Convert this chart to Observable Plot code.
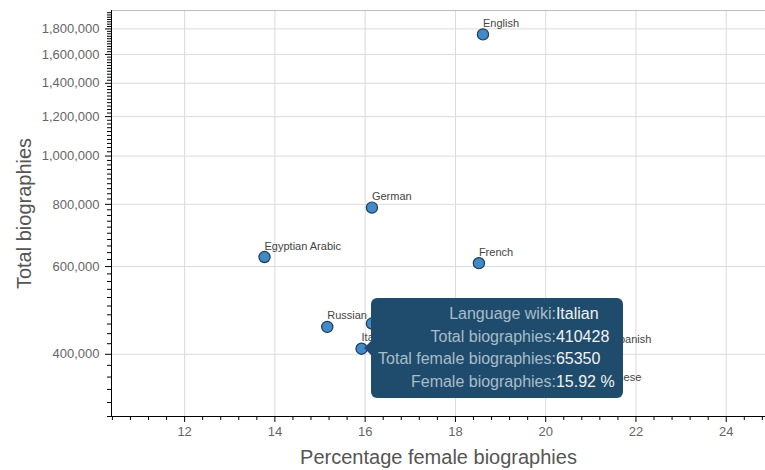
<!DOCTYPE html>
<html>
<head>
<meta charset="utf-8">
<script src="https://cdn.jsdelivr.net/npm/d3@7"></script>
<script src="https://cdn.jsdelivr.net/npm/@observablehq/plot@0.6"></script>
<style>
  html, body { margin: 0; padding: 0; background: #fff; }
  #wrap { position: relative; width: 765px; height: 470px; font-family: "Liberation Sans", Arial, Helvetica, sans-serif; }
  #tip {
    position: absolute;
    background: #1f4c6c;
    border-radius: 6px;
    padding: 5px 8px 5px 7px;
    font-size: 16px;
    line-height: 22.5px;
    display: grid;
    grid-template-columns: auto auto;
    white-space: nowrap;
  }
  #tip::before {
    content: "";
    position: absolute;
    left: -7px;
    top: 50%;
    transform: translateY(-50%);
    border-top: 7px solid transparent;
    border-bottom: 7px solid transparent;
    border-right: 7px solid #1f4c6c;
  }
  #tip .k { color: #a9bdca; text-align: right; }
  #tip .v { color: #f2f2f2; text-align: left; }
</style>
</head>
<body>
<div id="wrap"></div>
<script>
// ---- data ----
const languages = ["English", "German", "Egyptian Arabic", "French", "Russian", "Polish", "Italian", "Spanish", "Japanese"];
const pctFemale = [18.61, 16.15, 13.77, 18.52, 15.16, 16.15, 15.92, 21.46, 21.06];
const totalBios = [1755000, 788000, 627000, 609500, 454000, 461000, 410428, 408000, 341000];

const xTicks = [12, 14, 16, 18, 20, 22, 24];
const yTicks = [400000, 600000, 800000, 1000000, 1200000, 1400000, 1600000, 1800000];

// tooltip content (hovered point)
const tipLabels = ["Language wiki:", "Total biographies:", "Total female biographies:", "Female biographies:"];
const tipValues = ["Italian", "410428", "65350", "15.92 %"];
const tipIndex = 6;

const data = languages.map((l, i) => ({lang: l, pct: pctFemale[i], total: totalBios[i]}));

const xDomain = [10.38, 24.87];
const yDomain = [300000, 1960000];

const xMinor = d3.range(26, 63).map(i => +(i * 0.4).toFixed(2)).filter(v => Math.abs(v / 2 - Math.round(v / 2)) > 1e-6);
const yMinor = d3.range(15, 98).filter(i => i % 10 !== 0).map(i => i * 20000);

const font = "Liberation Sans, Arial, Helvetica, sans-serif";

const chart = Plot.plot({
  width: 765,
  height: 470,
  marginLeft: 111,
  marginRight: 0,
  marginTop: 10,
  marginBottom: 54,
  style: {background: "#fff", fontFamily: font},
  x: {domain: xDomain},
  y: {type: "log", domain: yDomain},
  marks: [
    Plot.gridX({ticks: xTicks, stroke: "#dadada", strokeOpacity: 1}),
    Plot.gridY({ticks: yTicks, stroke: "#dadada", strokeOpacity: 1}),
    Plot.ruleY([yDomain[1]], {stroke: "#bdbdbd"}),
    Plot.axisX({ticks: xTicks, tickSize: 6, tickPadding: 4, fontSize: 13, fill: "#666", stroke: "#000", label: null}),
    Plot.axisX({ticks: xMinor, tickSize: 4, tickFormat: () => "", stroke: "#000", label: null}),
    Plot.axisY({ticks: yTicks, tickSize: 6, tickPadding: 6, fontSize: 13, fill: "#666", stroke: "#000", tickFormat: d3.format(","), label: null}),
    Plot.axisY({ticks: yMinor, tickSize: 4, tickFormat: () => "", stroke: "#000", label: null}),
    Plot.ruleX([xDomain[0]], {stroke: "#000"}),
    Plot.ruleY([yDomain[0]], {stroke: "#000"}),
    Plot.dot(data, {x: "pct", y: "total", r: 5.6, fill: "#4189c7", stroke: "#1f3b52", strokeWidth: 1.2}),
    Plot.text(data, {x: "pct", y: "total", text: "lang", textAnchor: "start", dy: -11, fontSize: 11, fill: "#444"}),
    Plot.text(["Total biographies"], {frameAnchor: "left", textAnchor: "middle", lineAnchor: "middle", dx: -87, rotate: -90, fontSize: 20, fill: "#555", text: d => d}),
    Plot.text(["Percentage female biographies"], {frameAnchor: "bottom", textAnchor: "middle", lineAnchor: "middle", dy: 41, fontSize: 20, fill: "#555", text: d => d})
  ]
});

const wrap = document.getElementById("wrap");
wrap.appendChild(chart);

// tooltip overlay positioned from the scales
const px = chart.scale("x").apply(pctFemale[tipIndex]);
const py = chart.scale("y").apply(totalBios[tipIndex]);
const tip = document.createElement("div");
tip.id = "tip";
tipLabels.forEach((k, i) => {
  const a = document.createElement("span"); a.className = "k"; a.textContent = k;
  const b = document.createElement("span"); b.className = "v"; b.textContent = tipValues[i];
  tip.appendChild(a); tip.appendChild(b);
});
wrap.appendChild(tip);
const h = tip.offsetHeight;
tip.style.left = (px + 10) + "px";
tip.style.top = (py - h / 2) + "px";
</script>
</body>
</html>
